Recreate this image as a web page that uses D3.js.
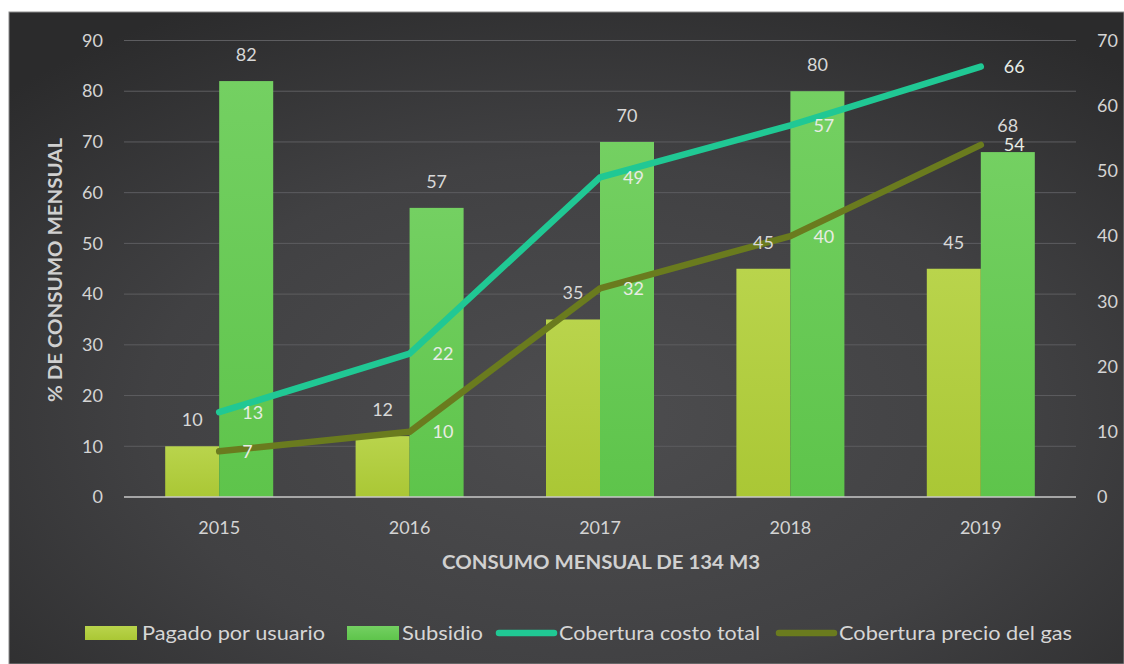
<!DOCTYPE html>
<html>
<head>
<meta charset="utf-8">
<script src="https://cdn.jsdelivr.net/npm/d3@7"></script>
<style>
  html, body { margin: 0; padding: 0; background: #ffffff; }
  svg { display: block; }
</style>
</head>
<body>
<svg id="chart" width="1124" height="664"></svg>
<script>
// Values per year
const years = ["2015", "2016", "2017", "2018", "2019"];
const pagadoUsuario = [10, 12, 35, 45, 45];
const subsidio = [82, 57, 70, 80, 68];
const coberturaCostoTotal = [13, 22, 49, 57, 66];
const coberturaPrecioGas = [7, 10, 32, 40, 54];
const leftTicks = [0, 10, 20, 30, 40, 50, 60, 70, 80, 90];
const rightTicks = [0, 10, 20, 30, 40, 50, 60, 70];
const seriesNames = ["Pagado por usuario", "Subsidio", "Cobertura costo total", "Cobertura precio del gas"];

const svg = d3.select("#chart");
const W = 1124, H = 664;
const plot = { left: 124, right: 1076, top: 40.5, bottom: 497 };
const font = "Lato, 'Open Sans', sans-serif";

const defs = svg.append("defs");

// Dark panel background
const bg = defs.append("radialGradient").attr("id", "bgGrad")
  .attr("cx", "52%").attr("cy", "62%").attr("r", "72%");
bg.append("stop").attr("offset", "0%").attr("stop-color", "#4d4d4f");
bg.append("stop").attr("offset", "55%").attr("stop-color", "#414143");
bg.append("stop").attr("offset", "100%").attr("stop-color", "#2b2b2c");

const gPag = defs.append("linearGradient").attr("id", "gPag")
  .attr("x1", 0).attr("y1", 0).attr("x2", 0).attr("y2", 1);
gPag.append("stop").attr("offset", "0%").attr("stop-color", "#b9d44c");
gPag.append("stop").attr("offset", "100%").attr("stop-color", "#aac735");

const gSub = defs.append("linearGradient").attr("id", "gSub")
  .attr("x1", 0).attr("y1", 0).attr("x2", 0).attr("y2", 1);
gSub.append("stop").attr("offset", "0%").attr("stop-color", "#74d062");
gSub.append("stop").attr("offset", "100%").attr("stop-color", "#5ec44b");

svg.append("rect")
  .attr("x", 9).attr("y", 12).attr("width", W - 9).attr("height", H - 12)
  .attr("fill", "url(#bgGrad)")
  .attr("stroke", "#8c8c8c").attr("stroke-width", 1);

// Scales
const x = d3.scaleBand().domain(years).range([plot.left, plot.right]).padding(0);
const barW = 54;
const xSub = d3.scaleBand().domain(["pag", "sub"]).range([-barW, barW]).padding(0);
const yL = d3.scaleLinear().domain([0, 90]).range([plot.bottom, plot.top]);
const yR = d3.scaleLinear().domain([0, 70]).range([plot.bottom, plot.top]);
const cx = d => x(d) + x.bandwidth() / 2;

// Gridlines
svg.append("g").selectAll("line").data(leftTicks.slice(1)).join("line")
  .attr("x1", plot.left).attr("x2", plot.right)
  .attr("y1", d => yL(d)).attr("y2", d => yL(d))
  .attr("stroke", "#5d5d60").attr("stroke-width", 1);

// Axes
function styleAxis(g) {
  g.select(".domain").remove();
  g.selectAll("text").attr("fill", "#d4d4d4")
    .style("font-family", font).style("font-size", "18px");
}
svg.append("g").attr("transform", `translate(${plot.left},0)`)
  .call(d3.axisLeft(yL).tickValues(leftTicks).tickSize(0).tickPadding(21))
  .call(styleAxis);
svg.append("g").attr("transform", `translate(${plot.right},0)`)
  .call(d3.axisRight(yR).tickValues(rightTicks).tickSize(0).tickPadding(21))
  .call(styleAxis);
svg.append("g").attr("transform", `translate(0,${plot.bottom})`)
  .call(d3.axisBottom(x).tickSize(0).tickPadding(24))
  .call(styleAxis);

// Bars
const bars = svg.append("g");
const barData = years.flatMap((yr, i) => [
  { yr, key: "pag", v: pagadoUsuario[i] },
  { yr, key: "sub", v: subsidio[i] }
]);
bars.selectAll("rect").data(barData).join("rect")
  .attr("x", d => cx(d.yr) + xSub(d.key))
  .attr("width", xSub.bandwidth())
  .attr("y", d => yL(d.v))
  .attr("height", d => yL(0) - yL(d.v))
  .attr("fill", d => d.key === "pag" ? "url(#gPag)" : "url(#gSub)");

// Category baseline
svg.append("line")
  .attr("x1", plot.left).attr("x2", plot.right)
  .attr("y1", plot.bottom).attr("y2", plot.bottom)
  .attr("stroke", "#c9c9c9").attr("stroke-width", 1.6);

// Lines on the secondary axis
const lineGen = d3.line().x(d => cx(d.yr)).y(d => yR(d.v));
const costoPts = years.map((yr, i) => ({ yr, v: coberturaCostoTotal[i] }));
const gasPts = years.map((yr, i) => ({ yr, v: coberturaPrecioGas[i] }));

svg.append("path").datum(gasPts).attr("d", lineGen)
  .attr("fill", "none").attr("stroke", "#6a7b1e").attr("stroke-width", 6.5)
  .attr("stroke-linejoin", "round").attr("stroke-linecap", "round");
svg.append("path").datum(costoPts).attr("d", lineGen)
  .attr("fill", "none").attr("stroke", "#20c894").attr("stroke-width", 6.5)
  .attr("stroke-linejoin", "round").attr("stroke-linecap", "round");

// Bar value labels (drawn above the lines)
svg.append("g").selectAll("text").data(barData).join("text")
  .attr("x", d => cx(d.yr) + xSub(d.key) + xSub.bandwidth() / 2)
  .attr("y", d => yL(d.v) - 20)
  .attr("text-anchor", "middle")
  .attr("fill", "#d8d8d8")
  .style("font-family", font).style("font-size", "18px")
  .text(d => d.v);

// Line value labels, to the right of each point
function pointLabels(pts, color) {
  svg.append("g").selectAll("text").data(pts).join("text")
    .attr("x", d => cx(d.yr) + 23)
    .attr("y", d => yR(d.v) + 6.5)
    .attr("fill", color)
    .style("font-family", font).style("font-size", "18px")
    .text(d => d.v);
}
pointLabels(costoPts, "#e6ece6");
pointLabels(gasPts, "#e9ece4");

// Axis titles
svg.append("text")
  .attr("transform", "translate(62,270) rotate(-90)")
  .attr("text-anchor", "middle")
  .attr("fill", "#d0d0d0")
  .style("font-family", font).style("font-size", "19px").style("font-weight", "bold")
  .attr("textLength", 264).attr("lengthAdjust", "spacingAndGlyphs")
  .text("% DE CONSUMO MENSUAL");

svg.append("text")
  .attr("x", 601).attr("y", 569)
  .attr("text-anchor", "middle")
  .attr("fill", "#d0d0d0")
  .style("font-family", font).style("font-size", "19px").style("font-weight", "bold")
  .attr("textLength", 318).attr("lengthAdjust", "spacingAndGlyphs")
  .text("CONSUMO MENSUAL DE 134 M3");

// Legend
const legendItems = [
  { name: seriesNames[0], kind: "rect", fill: "url(#gPag)", sx: 85, tx: 142, tw: 183 },
  { name: seriesNames[1], kind: "rect", fill: "url(#gSub)", sx: 347, tx: 402, tw: 81 },
  { name: seriesNames[2], kind: "line", fill: "#20c894", sx: 499, tx: 559, tw: 201 },
  { name: seriesNames[3], kind: "line", fill: "#6a7b1e", sx: 779, tx: 839, tw: 233 }
];
const legY = 633;
const leg = svg.append("g");
legendItems.forEach(it => {
  if (it.kind === "rect") {
    leg.append("rect").attr("x", it.sx).attr("y", legY - 7)
      .attr("width", 52).attr("height", 14).attr("fill", it.fill);
  } else {
    leg.append("line").attr("x1", it.sx).attr("x2", it.sx + 55)
      .attr("y1", legY).attr("y2", legY)
      .attr("stroke", it.fill).attr("stroke-width", 6.5).attr("stroke-linecap", "round");
  }
  leg.append("text").attr("x", it.tx).attr("y", legY + 6.5)
    .attr("fill", "#d6d6d6")
    .style("font-family", font).style("font-size", "19px")
    .attr("textLength", it.tw).attr("lengthAdjust", "spacingAndGlyphs")
    .text(it.name);
});
</script>
</body>
</html>
